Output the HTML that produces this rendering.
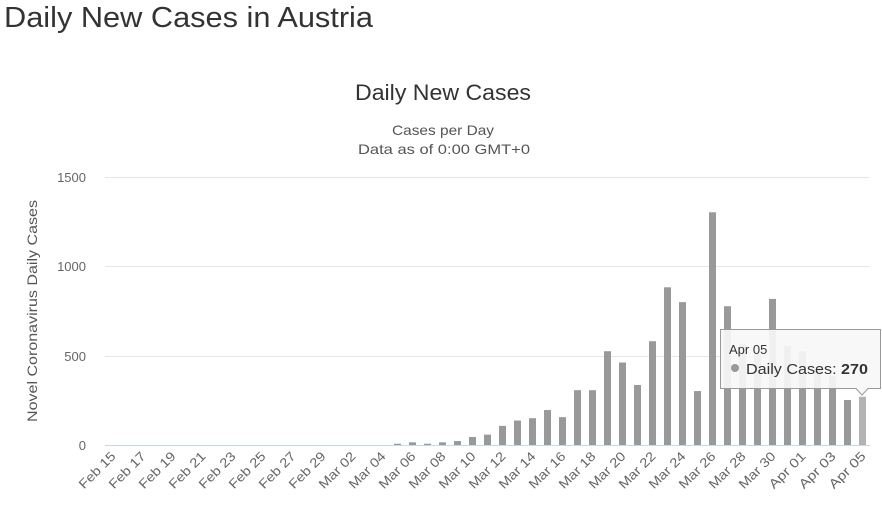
<!DOCTYPE html>
<html><head><meta charset="utf-8"><style>
body{margin:0;background:#fff;width:882px;height:502px;overflow:hidden;font-family:"Liberation Sans",sans-serif}
</style></head><body>
<svg width="882" height="502" xmlns="http://www.w3.org/2000/svg" font-family="Liberation Sans, sans-serif">
<text x="4" y="27" font-size="29" fill="#333" textLength="369" lengthAdjust="spacingAndGlyphs">Daily New Cases in Austria</text>
<text x="355" y="100" font-size="22" fill="#333" textLength="176" lengthAdjust="spacingAndGlyphs">Daily New Cases</text>
<text x="392" y="135" font-size="14" fill="#555" textLength="102" lengthAdjust="spacingAndGlyphs">Cases per Day</text>
<text x="358" y="154" font-size="14" fill="#555" textLength="172" lengthAdjust="spacingAndGlyphs">Data as of 0:00 GMT+0</text>
<g stroke="#e6e6e6" stroke-width="1">
<line x1="105" x2="870" y1="177.5" y2="177.5"/><line x1="105" x2="870" y1="266.5" y2="266.5"/><line x1="105" x2="870" y1="356.5" y2="356.5"/>
</g>
<line x1="105" x2="870" y1="445.5" y2="445.5" stroke="#ccd6eb"/>
<g font-size="13" fill="#666" text-anchor="end">
<text x="86" y="182">1500</text><text x="86" y="271">1000</text><text x="86" y="361">500</text><text x="86" y="450">0</text>
</g>
<text transform="translate(37,422) rotate(-90)" font-size="14" fill="#555" textLength="222" lengthAdjust="spacingAndGlyphs">Novel Coronavirus Daily Cases</text>
<g id="bars" fill="#999"></g>
<g id="labels" font-size="13" fill="#666"></g>
<g>
<path d="M720.5 329.5 H880.5 V388.5 H868 L862 395 L856 388.5 H720.5 Z" fill="rgba(247,247,247,0.92)" stroke="#999" stroke-width="1"/>
<text x="729" y="354" font-size="13" fill="#333">Apr 05</text>
<circle cx="735" cy="368" r="4" fill="#999"/>
<text x="746" y="374" font-size="15" fill="#333" textLength="122" lengthAdjust="spacingAndGlyphs">Daily Cases: <tspan font-weight="bold">270</tspan></text>
</g>
</svg>
<script>
var v=[0,0,0,0,0,0,0,0,0,0,0,0,0,0,0,0,0,0,0,7,15,7,15,22,45,58,107,137,150,196,156,307,307,525,462,336,581,883,800,302,1303,777,565,512,818,553,525,438,386,252,270];
var b=document.getElementById('bars'),l=document.getElementById('labels'),ns='http://www.w3.org/2000/svg';
for(var i=0;i<51;i++){var c=112.5+15*i,h=v[i]*89.3/500;
 if(h>0){var r=document.createElementNS(ns,'rect');r.setAttribute('x',c-3.5);r.setAttribute('width',7);r.setAttribute('y',445-h);r.setAttribute('height',h);if(i==50)r.setAttribute('fill','#b3b3b3');b.appendChild(r);}
 if(i%2==0){var d=i<15?['Feb',15+i]:(i<46?['Mar',i-14]:['Apr',i-45]);
  var t=document.createElementNS(ns,'text');t.setAttribute('text-anchor','end');
  t.setAttribute('transform','translate('+(c+4)+',457) rotate(-45)');
  t.setAttribute('textLength','46');t.setAttribute('lengthAdjust','spacingAndGlyphs');
  t.textContent=d[0]+' '+(d[1]<10?'0':'')+d[1];l.appendChild(t);}
}
</script>
</body></html>
